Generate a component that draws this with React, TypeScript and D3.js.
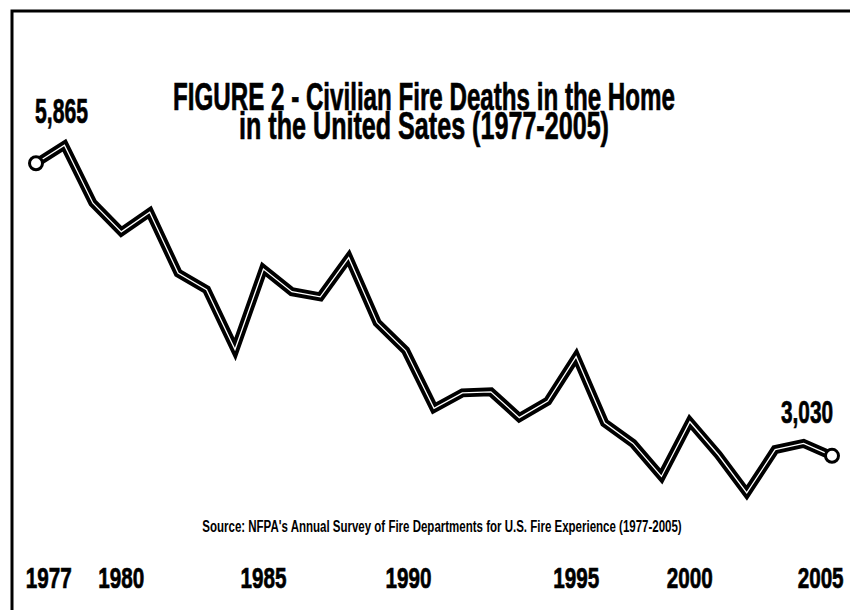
import React, { useLayoutEffect, useRef, useState } from "react";
import * as d3 from "d3";

// Civilian home fire deaths by year
const years = [
  1977, 1978, 1979, 1980, 1981, 1982, 1983, 1984, 1985, 1986, 1987, 1988, 1989,
  1990, 1991, 1992, 1993, 1994, 1995, 1996, 1997, 1998, 1999, 2000, 2001, 2002,
  2003, 2004, 2005,
];
const deaths = [
  5865, 6040, 5480, 5200, 5390, 4800, 4640, 4060, 4840, 4620, 4570, 4950, 4320,
  4050, 3490, 3640, 3650, 3400, 3560, 3990, 3350, 3150, 2830, 3360, 3040, 2670,
  3090, 3150, 3030,
];

// x-axis tick labels and where they sit (in year units, as in the original)
const tickLabels = ["1977", "1980", "1985", "1990", "1995", "2000", "2005"];
const tickAt = [1977.45, 1980, 1985, 1990.1, 1996, 2000, 2004.6];

const titleLines = [
  "FIGURE 2 - Civilian Fire Deaths in the Home",
  "in the United Sates (1977-2005)",
];
const sourceText =
  "Source: NFPA's Annual Survey of Fire Departments for U.S. Fire Experience (1977-2005)";
const startLabel = "5,865";
const endLabel = "3,030";

const W = 850;
const H = 610;
const FONT = "'Liberation Sans Narrow', 'Liberation Sans', Arial, sans-serif";

type CTProps = {
  x: number;
  y: number;
  width: number;
  size: number;
  heavy?: boolean;
  children: string;
};

// Text condensed horizontally to a target width
function CondText({ x, y, width, size, heavy = true, children }: CTProps) {
  const ref = useRef<SVGTextElement>(null);
  const [s, setS] = useState(1);
  useLayoutEffect(() => {
    if (ref.current) {
      const len = ref.current.getComputedTextLength();
      if (len > 0) setS(width / len);
    }
  }, [width, children, size]);
  return (
    <g transform={`translate(${x},${y}) scale(${s},1)`}>
      <text
        ref={ref}
        x={0}
        y={0}
        fontFamily={FONT}
        fontWeight="bold"
        fontSize={size}
        textAnchor="middle"
        fill="#000"
        stroke={heavy ? "#000" : "none"}
        strokeWidth={heavy ? 0.7 : 0}
      >
        {children}
      </text>
    </g>
  );
}

// Two-line title in one text element, condensed to target widths
function Title({ x, y1, y2, w1, w2, size1, size2 }: { x: number; y1: number; y2: number; w1: number; w2: number; size1: number; size2: number }) {
  const r1 = useRef<SVGTSpanElement>(null);
  const r2 = useRef<SVGTSpanElement>(null);
  const [s, setS] = useState(1);
  const [fs2, setFs2] = useState(size2);
  useLayoutEffect(() => {
    if (r1.current && r2.current) {
      const l1 = r1.current.getComputedTextLength();
      const l2 = r2.current.getComputedTextLength();
      if (l1 > 0 && l2 > 0) {
        const sc = w1 / l1;
        setS(sc);
        setFs2(size2 * (w2 / (l2 * sc)));
      }
    }
  }, []);
  return (
    <g transform={`translate(${x},0) scale(${s},1)`}>
      <text fontFamily={FONT} fontWeight="bold" textAnchor="middle" fill="#000" stroke="#000" strokeWidth={0.7}>
        <tspan ref={r1} x={0} y={y1} fontSize={size1}>
          {titleLines[0]}
        </tspan>
        <tspan ref={r2} x={0} y={y2} fontSize={fs2}>
          {titleLines[1]}
        </tspan>
      </text>
    </g>
  );
}

export default function App() {
  const x = d3.scaleLinear().domain([1977, 2005]).range([36, 832]);
  const y = d3.scaleLinear().domain([2500, 6000]).range([510.5, 149.3]);

  const pts: [number, number][] = years.map((yr, i) => [x(yr), y(deaths[i])]);
  const line = d3.line<[number, number]>().x((d) => d[0]).y((d) => d[1]);
  const path = line(pts) || "";

  const first = pts[0];
  const last = pts[pts.length - 1];

  return (
    <div style={{ position: "absolute", left: 0, top: 0 }}>
      <svg width={W} height={H} viewBox={`0 0 ${W} ${H}`} style={{ display: "block", background: "#fff" }}>
        <rect x={0} y={0} width={W} height={H} fill="#fff" />
        {/* frame */}
        <path d={`M12,${H} L12,11 L${W},11`} fill="none" stroke="#000" strokeWidth={3} />

        {/* title */}
        <Title x={424} y1={110} y2={139} w1={502} w2={370} size1={38} size2={35} />

        {/* data line: black outline with thin white core */}
        <path d={path} fill="none" stroke="#000" strokeWidth={9} strokeLinejoin="miter" strokeMiterlimit={4} />
        <path d={path} fill="none" stroke="#fff" strokeWidth={1.3} strokeLinejoin="miter" strokeMiterlimit={4} />

        {/* end markers */}
        <circle cx={first[0]} cy={first[1]} r={6.5} fill="#fff" stroke="#000" strokeWidth={3} />
        <circle cx={last[0]} cy={last[1]} r={6.5} fill="#fff" stroke="#000" strokeWidth={3} />

        {/* value labels */}
        <CondText x={61.5} y={123} width={53} size={35}>
          {startLabel}
        </CondText>
        <CondText x={807} y={423} width={52} size={32}>
          {endLabel}
        </CondText>

        {/* source */}
        <CondText x={442} y={532} width={480} size={17} heavy={false}>
          {sourceText}
        </CondText>

        {/* x tick labels */}
        {tickLabels.map((t, i) => (
          <CondText key={t} x={x(tickAt[i])} y={588} width={46} size={30}>
            {t}
          </CondText>
        ))}
      </svg>
    </div>
  );
}
